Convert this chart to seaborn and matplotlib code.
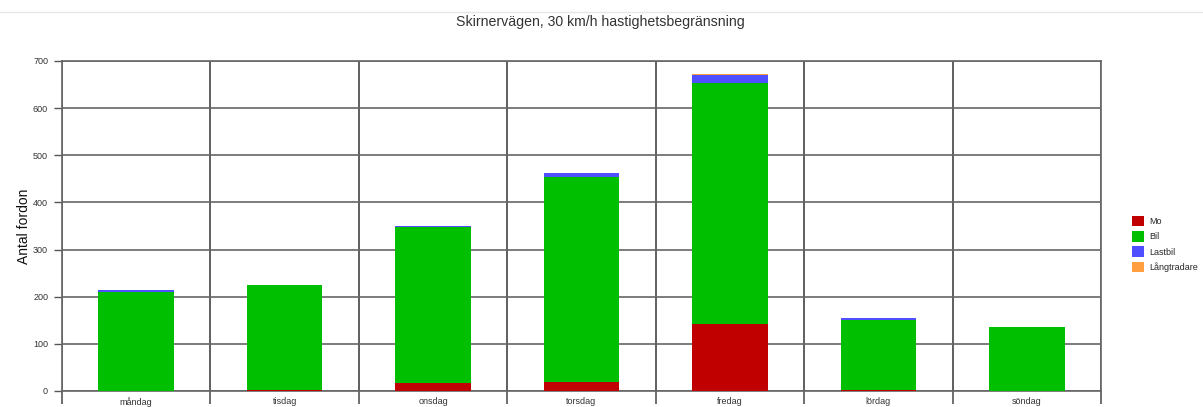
import numpy as np
import pandas as pd
import matplotlib
matplotlib.use("Agg")
import matplotlib.pyplot as plt
import matplotlib.patches as mpatches
from matplotlib.lines import Line2D
import seaborn as sns

days = ["måndag", "tisdag", "onsdag", "torsdag", "fredag", "lördag", "söndag"]
mo = [0, 2, 16, 20, 142, 2, 0]
bil = [211, 223, 332, 435, 511, 149, 136]
lastbil = [3, 0, 1, 7, 17, 3, 0]
langtradare = [0, 0, 1, 0, 3, 0, 0]

series = ["Mo", "Bil", "Lastbil", "Långtradare"]
colors = ["#c00000", "#00bf00", "#4f4fff", "#ff9f3f"]

df = pd.DataFrame({"dag": days, "Mo": mo, "Bil": bil,
                   "Lastbil": lastbil, "Långtradare": langtradare})

sns.set_style("white")
plt.rcParams["font.family"] = ["Liberation Sans", "DejaVu Sans"]

fig = plt.figure(figsize=(12.03, 4.07), dpi=100)
ax = fig.add_axes([62 / 1203, 16 / 407, 1039 / 1203, 330 / 407])

# stacked bars: draw cumulative totals from the top layer down
cum = df[series].cumsum(axis=1)
for name, col in reversed(list(zip(series, colors))):
    sns.barplot(x=df["dag"], y=cum[name], color=col, width=0.51,
                saturation=1, ax=ax, linewidth=0, zorder=3)

ax.set_ylim(0, 700)
ax.set_xlim(-0.5, len(days) - 0.5)
ax.set_yticks(np.arange(0, 701, 100))
ax.tick_params(axis="y", left=True, labelsize=6.5, labelcolor="#333333",
               length=6, width=1, color="#555555", direction="out", pad=4)

# category labels at centers, grid lines at category boundaries
ax.set_xticks(range(len(days)))
ax.set_xticklabels(days)
ax.tick_params(axis="x", which="major", bottom=True, length=0, labelsize=6.5,
               labelcolor="#333333", pad=4.5)
ax.set_xticks(np.arange(-0.5, len(days)), minor=True)
ax.tick_params(axis="x", which="minor", bottom=True, length=9, width=1.2,
               color="#555555", direction="out")

ax.grid(True, axis="y", which="major", color="#666666", linewidth=1.2, zorder=0)
ax.grid(True, axis="x", which="minor", color="#444444", linewidth=1.2, zorder=0)
ax.grid(False, axis="x", which="major")
ax.set_axisbelow(True)

for s in ["left", "right", "top", "bottom"]:
    ax.spines[s].set_visible(True)
    ax.spines[s].set_color("#666666")
    ax.spines[s].set_linewidth(1.2)

ax.set_xlabel("")
ax.set_ylabel("Antal fordon", fontsize=10, color="#111111")
ax.yaxis.set_label_coords(-0.030, 0.5)

fig.text(0.499, 0.945, "Skirnervägen, 30 km/h hastighetsbegränsning",
         ha="center", va="center", fontsize=10.2, color="#333333")

# faint separator line near the top edge
fig.add_artist(Line2D([0, 1], [1 - 12 / 407, 1 - 12 / 407],
                      color="#e6e6e6", linewidth=1))

handles = [mpatches.Patch(facecolor=c, edgecolor="none", label=n)
           for n, c in zip(series, colors)]
fig.legend(handles=handles, loc="center left",
           bbox_to_anchor=(1124 / 1203, 1 - 244 / 407), frameon=False,
           fontsize=6.5, handlelength=1.3, handleheight=1.4,
           handletextpad=0.6, labelspacing=0.55)

fig.savefig("out.png", dpi=100)
